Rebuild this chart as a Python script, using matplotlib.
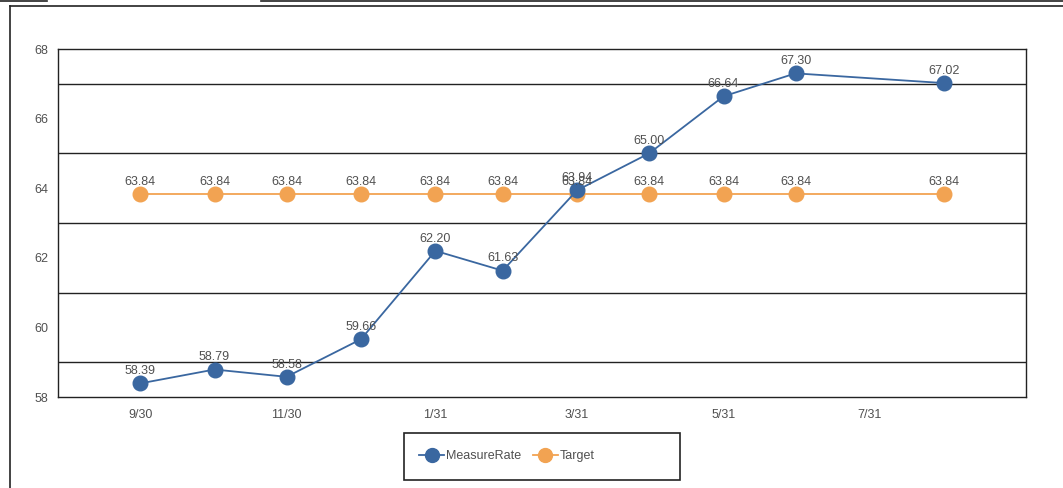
import matplotlib
matplotlib.use("Agg")
import matplotlib.pyplot as plt
from matplotlib.lines import Line2D
from matplotlib.patches import Rectangle
import datetime as dt

plt.rcParams['font.family'] = ['Liberation Sans', 'DejaVu Sans']

dates = ["2018-09-30", "2018-10-31", "2018-11-30", "2018-12-31", "2019-01-31",
         "2019-02-28", "2019-03-31", "2019-04-30", "2019-05-31", "2019-06-30",
         "2019-08-31"]
measure_rate = [58.39, 58.79, 58.58, 59.66, 62.20, 61.63, 63.94, 65.00, 66.64, 67.30, 67.02]
target = [63.84] * 11
tick_dates = ["2018-09-30", "2018-11-30", "2019-01-31", "2019-03-31", "2019-05-31", "2019-07-31"]
tick_labels = ["9/30", "11/30", "1/31", "3/31", "5/31", "7/31"]
y_ticks = [58, 60, 62, 64, 66, 68]
grid_vals = [59, 61, 63, 65, 67]

x = [dt.datetime.strptime(d, "%Y-%m-%d") for d in dates]
xt = [dt.datetime.strptime(d, "%Y-%m-%d") for d in tick_dates]

blue = "#3a67a0"
orange = "#f2a352"
txt = "#505050"

fig = plt.figure(figsize=(10.63, 4.88), dpi=100)
W, H = 1063, 488
ax = fig.add_axes([58 / W, 1 - 397 / H, (1026 - 58) / W, (397 - 49) / H])

for g in grid_vals:
    ax.axhline(g, color="#222222", lw=1.0, zorder=1)

ax.plot(x, target, color=orange, lw=1.3, marker="o", ms=10.5, zorder=3, label="Target")
ax.plot(x, measure_rate, color=blue, lw=1.3, marker="o", ms=10.5, zorder=4, label="MeasureRate")

for xi, v in zip(x, target):
    ax.annotate(f"{v:.2f}", (xi, v), xytext=(0, 4.5), textcoords="offset points",
                ha="center", va="bottom", fontsize=9, color=txt, zorder=5)
for xi, v in zip(x, measure_rate):
    ax.annotate(f"{v:.2f}", (xi, v), xytext=(0, 4.5), textcoords="offset points",
                ha="center", va="bottom", fontsize=9, color=txt, zorder=5)

x0 = dt.datetime(2018, 9, 30) - dt.timedelta(days=34.2)
x1 = dt.datetime(2018, 9, 30) + dt.timedelta(days=369)
ax.set_xlim(x0, x1)
ax.set_ylim(58, 68)
ax.set_yticks(y_ticks)
ax.set_xticks(xt)
ax.set_xticklabels(tick_labels)
ax.tick_params(axis="both", length=0, labelsize=9, labelcolor=txt)
ax.tick_params(axis="y", pad=7)
ax.tick_params(axis="x", pad=9)
for s in ax.spines.values():
    s.set_color("#222222")
    s.set_linewidth(1.0)

handles = [Line2D([], [], color=blue, lw=1.3, marker="o", ms=10),
           Line2D([], [], color=orange, lw=1.3, marker="o", ms=10)]
leg = fig.legend(handles, ["MeasureRate", "Target"], loc="center left",
                 bbox_to_anchor=(408 / W, 1 - 456 / H), ncol=2, frameon=False,
                 fontsize=9, handlelength=2.0, handletextpad=0.15, columnspacing=0.9,
                 labelcolor=txt)
fig.add_artist(Rectangle((404 / W, 1 - 480 / H), (680 - 404) / W, (480 - 433) / H,
                         transform=fig.transFigure, fill=False, edgecolor="#222222", lw=1.2))

# outer page border lines
def fl(xs, ys, lw=1.2):
    fig.add_artist(Line2D([v / W for v in xs], [1 - v / H for v in ys],
                          color="#222222", lw=lw, transform=fig.transFigure))
fl([10, 10], [6, 488])
fl([10, 1063], [6, 6])
fl([0, 47], [1, 1])
fl([261, 1063], [1, 1])

fig.savefig("out.png", dpi=100)
